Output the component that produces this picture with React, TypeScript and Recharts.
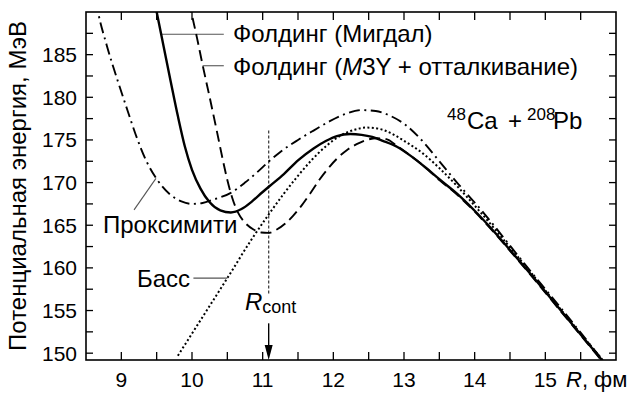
import React from "react";
import { LineChart, Line, XAxis, YAxis, ReferenceLine } from "recharts";

const FONT = "'Liberation Sans', Arial, sans-serif";
const INK = "#000";
const LEADER = "#555";

// R axis (fm) and energy axis (MeV)
const rTicks = [9, 9.5, 10, 10.5, 11, 11.5, 12, 12.5, 13, 13.5, 14, 14.5, 15, 15.5];
const vTicks = [150, 152.5, 155, 157.5, 160, 162.5, 165, 167.5, 170, 172.5, 175, 177.5, 180, 182.5, 185, 187.5];
const rDomain = [8.5, 16];
const vDomain = [149.2, 190];

// Folding potential, Migdal forces
const migdalR = [9.46, 9.5, 9.6, 9.7, 9.8, 9.9, 10.0, 10.12, 10.25, 10.4, 10.55, 10.7, 10.85, 11.0, 11.1, 11.3, 11.5, 11.72, 11.9, 12.05, 12.24, 12.4, 12.55, 12.7, 12.9, 13.1, 13.3, 13.5, 13.75, 14.0, 14.27, 14.5, 14.83, 15.2, 15.5, 15.8, 15.9];
const migdalV = [191.6, 190.0, 185.9, 181.8, 177.8, 174.2, 171.5, 169.3, 167.7, 166.75, 166.5, 166.9, 167.8, 168.9, 169.6, 171.0, 172.6, 174.0, 174.9, 175.45, 175.7, 175.6, 175.35, 174.9, 174.2, 173.1, 171.8, 170.4, 168.7, 166.7, 164.3, 162.1, 158.9, 155.2, 152.2, 149.2, 148.2];

// Folding potential, M3Y + repulsive core
const m3yR = [9.96, 9.99, 10.07, 10.15, 10.25, 10.35, 10.43, 10.5, 10.57, 10.65, 10.75, 10.87, 10.98, 11.08, 11.2, 11.32, 11.43, 11.55, 11.67, 11.8, 11.92, 12.05, 12.19, 12.33, 12.47, 12.61, 12.75, 12.9, 13.1, 13.3, 13.5, 13.75, 14.0, 14.27, 14.5, 14.83, 15.2, 15.5, 15.8, 15.9];
const m3yV = [191.2, 190.0, 187.0, 183.8, 180.0, 176.1, 172.9, 170.3, 168.2, 166.5, 165.3, 164.5, 164.15, 164.1, 164.5, 165.2, 166.1, 167.3, 168.7, 170.3, 171.6, 172.8, 173.8, 174.5, 175.0, 175.2, 175.1, 174.3, 173.1, 171.8, 170.3, 168.6, 166.6, 164.2, 162.0, 158.8, 155.1, 152.1, 149.1, 148.1];

// Proximity potential
const proxR = [8.64, 8.67, 8.79, 8.95, 9.09, 9.2, 9.35, 9.51, 9.69, 9.85, 10.0, 10.15, 10.3, 10.55, 10.75, 10.92, 11.09, 11.25, 11.5, 11.72, 11.95, 12.19, 12.4, 12.6, 12.8, 13.0, 13.28, 13.5, 13.75, 14.08, 14.27, 14.5, 14.83, 15.2, 15.5, 15.8, 15.9];
const proxV = [191.3, 190.0, 186.2, 181.9, 178.4, 175.7, 172.6, 170.3, 168.6, 167.8, 167.5, 167.6, 168.0, 168.8, 170.0, 171.2, 172.5, 173.6, 175.0, 176.1, 177.2, 178.1, 178.5, 178.4, 177.85, 176.9, 174.7, 172.5, 170.0, 166.9, 165.0, 162.6, 159.2, 155.5, 152.4, 149.3, 148.3];

// Bass potential
const bassR = [9.8, 10.1, 10.5, 10.84, 11.08, 11.3, 11.5, 11.7, 11.9, 12.1, 12.3, 12.47, 12.65, 12.8, 13.0, 13.27, 13.5, 13.75, 14.0, 14.27, 14.5, 14.83, 15.2, 15.5, 15.8, 15.9];
const bassV = [149.7, 153.6, 158.8, 163.3, 166.2, 168.7, 170.8, 172.7, 174.3, 175.5, 176.2, 176.45, 176.3, 175.85, 174.9, 173.4, 171.7, 169.6, 167.3, 164.7, 162.4, 159.1, 155.3, 152.3, 149.3, 148.3];

// contact radius marker
const R_CONT = 11.085;
const rContLine = [176.1, 156.8];
const rContArrow = [153.5, 149.2];

// label leaders: [r1, v1, r2, v2]
const leaders = [
  [9.57, 187.4, 10.45, 187.4],
  [10.15, 183.7, 10.45, 183.7],
  [9.18, 166.8, 9.49, 170.5],
  [10.02, 158.8, 10.5, 158.8],
];

const toPoints = (rs: number[], vs: number[]) => rs.map((r, i) => ({ r, v: vs[i] }));

const W = 631;
const H = 397;
// plot box left by the axes: left 86, top 12, right 15, bottom 37
const BOX = { x: 86, y: 12, w: W - 86 - 15, h: H - 12 - 37 };
const px = (r: number) => BOX.x + ((r - rDomain[0]) / (rDomain[1] - rDomain[0])) * BOX.w;
const py = (v: number) => BOX.y + ((vDomain[1] - v) / (vDomain[1] - vDomain[0])) * BOX.h;

function BottomLabel(p: any) {
  const v = p.payload.value;
  if (!Number.isInteger(v)) return null;
  return (
    <text x={p.x} y={p.y + 26.5} textAnchor="middle" fontSize={21} fill={INK} style={{ fontFamily: FONT }}>
      {v}
    </text>
  );
}

function LeftLabel(p: any) {
  const v = p.payload.value;
  if (v % 5 !== 0) return null;
  return (
    <text x={p.x - 9} y={p.y + 7.5} textAnchor="end" fontSize={21} fill={INK} style={{ fontFamily: FONT }}>
      {v}
    </text>
  );
}

function Arrow(props: any) {
  const { x1, y1, x2, y2 } = props;
  return (
    <g>
      <line x1={x1} y1={y1} x2={x2} y2={y2 - 12} stroke={INK} strokeWidth={1.4} />
      <path d={`M${x2 - 4},${y2 - 15} L${x2 + 4},${y2 - 15} L${x2},${y2} Z`} fill={INK} />
    </g>
  );
}

// frame with inward ticks on all four sides
function Frame() {
  return (
    <g stroke={INK} fill="none">
      <rect x={BOX.x} y={BOX.y} width={BOX.w} height={BOX.h} strokeWidth={1.6} />
      {rTicks.map((r) => (
        <g key={`r${r}`} strokeWidth={1.3}>
          <line x1={px(r)} y1={BOX.y + BOX.h} x2={px(r)} y2={BOX.y + BOX.h - 8} />
          <line x1={px(r)} y1={BOX.y} x2={px(r)} y2={BOX.y + 8} />
        </g>
      ))}
      {vTicks.map((v) => (
        <g key={`v${v}`} strokeWidth={1.3}>
          <line x1={BOX.x} y1={py(v)} x2={BOX.x + 7} y2={py(v)} />
          <line x1={BOX.x + BOX.w} y1={py(v)} x2={BOX.x + BOX.w - 7} y2={py(v)} />
        </g>
      ))}
    </g>
  );
}

export default function App() {
  const ax = { xAxisId: "b", yAxisId: "l" };
  const common = {
    ...ax,
    dataKey: "v",
    type: "monotone" as const,
    dot: false,
    activeDot: false,
    isAnimationActive: false,
    stroke: INK,
  };
  const axisBase = { interval: 0, tickSize: 0, tickMargin: 0, axisLine: false, tickLine: false };

  return (
    <div style={{ position: "absolute", left: 0, top: 0, width: W, height: H, background: "#fff", fontFamily: FONT }}>
      <LineChart width={W} height={H} margin={{ top: BOX.y, right: 15, bottom: 0, left: 0 }}>
        <XAxis {...axisBase} xAxisId="b" type="number" dataKey="r" domain={rDomain} ticks={rTicks} height={37} tick={BottomLabel} />
        <YAxis {...axisBase} yAxisId="l" type="number" domain={vDomain} ticks={vTicks} width={BOX.x} tick={LeftLabel} allowDataOverflow />

        {leaders.map(([r1, v1, r2, v2], i) => (
          <ReferenceLine
            key={i}
            {...ax}
            segment={[{ x: r1, y: v1 }, { x: r2, y: v2 }]}
            stroke={LEADER}
            strokeWidth={1.1}
            ifOverflow="visible"
          />
        ))}
        <ReferenceLine
          {...ax}
          segment={[{ x: R_CONT, y: rContLine[0] }, { x: R_CONT, y: rContLine[1] }]}
          stroke="#444"
          strokeWidth={1.3}
          strokeDasharray="3 2"
          ifOverflow="visible"
        />
        <ReferenceLine
          {...ax}
          segment={[{ x: R_CONT, y: rContArrow[0] }, { x: R_CONT, y: rContArrow[1] }]}
          shape={Arrow}
          ifOverflow="visible"
        />

        <Line {...common} data={toPoints(bassR, bassV)} strokeWidth={2} strokeDasharray="2 2.4" />
        <Line {...common} data={toPoints(proxR, proxV)} strokeWidth={1.9} strokeDasharray="11 4.5 2 4.5" />
        <Line {...common} data={toPoints(m3yR, m3yV)} strokeWidth={1.9} strokeDasharray="11 5.5" />
        <Line {...common} data={toPoints(migdalR, migdalV)} strokeWidth={2.4} />
      </LineChart>

      <svg
        width={W}
        height={H}
        style={{ position: "absolute", left: 0, top: 0, pointerEvents: "none", fontFamily: FONT }}
      >
        <Frame />
        <g fill={INK}>
          <text x={233} y={41.5} fontSize={24}>Фолдинг (Мигдал)</text>
          <text x={233} y={74.5} fontSize={24}>
            Фолдинг (<tspan fontStyle="italic">M</tspan>3Y + отталкивание)
          </text>
          <text y={129} fontSize={24}>
            <tspan x={447} fontSize={17} dy={-9}>48</tspan>
            <tspan x={467} dy={9}>Ca</tspan>
            <tspan x={508}>+</tspan>
            <tspan x={527} fontSize={17} dy={-9}>208</tspan>
            <tspan x={553} dy={9}>Pb</tspan>
          </text>
          <text x={103} y={233} fontSize={24}>Проксимити</text>
          <text x={137} y={286.5} fontSize={24}>Басс</text>
          <text x={245} y={310} fontSize={24}>
            <tspan fontStyle="italic">R</tspan>
            <tspan fontSize={18} dy={3}>cont</tspan>
          </text>
          <text x={566} y={387} fontSize={22}>
            <tspan fontStyle="italic">R</tspan>, фм
          </text>
          <text x={25.5} y={186} fontSize={24} textAnchor="middle" transform="rotate(-90 25.5 186)">
            Потенциальная энергия, МэВ
          </text>
        </g>
      </svg>
    </div>
  );
}
